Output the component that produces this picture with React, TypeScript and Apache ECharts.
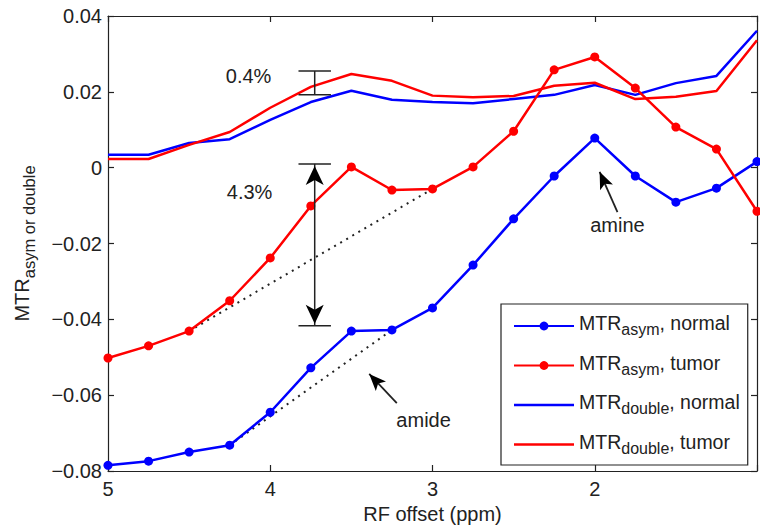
import React, { useEffect, useRef } from "react";
import * as echarts from "echarts";

// RF offsets (ppm)
const offsets = [5, 4.75, 4.5, 4.25, 4, 3.75, 3.5, 3.25, 3, 2.75, 2.5, 2.25, 2, 1.75, 1.5, 1.25, 1];

// Series values
const asymNormal = [-0.0785, -0.0774, -0.075, -0.0732, -0.0645, -0.0528, -0.0431, -0.0428, -0.037, -0.0257, -0.0135, -0.0022, 0.0078, -0.0022, -0.0091, -0.0054, 0.0016];
const asymTumor = [-0.0502, -0.047, -0.0431, -0.0351, -0.0238, -0.0101, 0.0002, -0.0059, -0.0056, 0.0002, 0.0096, 0.0258, 0.0292, 0.021, 0.0107, 0.0049, -0.0115];
const doubleNormal = [0.0034, 0.0034, 0.0065, 0.0075, 0.0126, 0.0173, 0.0203, 0.0179, 0.0173, 0.017, 0.0181, 0.0192, 0.0218, 0.0192, 0.0223, 0.0242, 0.0361];
const doubleTumor = [0.0023, 0.0023, 0.006, 0.0094, 0.0158, 0.0213, 0.0247, 0.0229, 0.019, 0.0186, 0.0189, 0.0216, 0.0224, 0.0181, 0.0187, 0.0202, 0.0336];

// Baselines (dotted)
const tumorBaseline = [[4.5, -0.0431], [3, -0.0056]];
const normalBaseline = [[4.25, -0.0732], [3.25, -0.0428]];

// Legend
const seriesNames = ["asymNormal", "asymTumor", "doubleNormal", "doubleTumor"];
const legendSub = ["asym", "asym", "double", "double"];
const legendTail = [", normal", ", tumor", ", normal", ", tumor"];

// Annotations (data coordinates)
const smallBar = { x: 3.726, top: 0.0255, bottom: 0.0192, half: 0.1 };
const bigBar = { x: 3.726, top: 0.001, bottom: -0.0417, half: 0.1 };
const label04 = { x: 4.274, y: 0.0242, text: "0.4%" };
const label43 = { x: 4.268, y: -0.0064, text: "4.3%" };
const amine = { tip: [1.97, -0.0011], tail: [1.86, -0.0117], label: [1.86, -0.0151], text: "amine" };
const amide = { tip: [3.39, -0.0544], tail: [3.22, -0.0621], label: [3.055, -0.0666], text: "amide" };

const BLUE = "#0000ff";
const RED = "#ff0000";
const INK = "#222";
const FONT = "'Liberation Sans', Arial, Helvetica, sans-serif";

const pairs = (ys: number[]) => offsets.map((x, i) => [x, ys[i]]);

const fmtY = (v: number) => {
  if (Math.abs(v) < 1e-9) return "0";
  const s = Math.abs(v).toFixed(2);
  return v < 0 ? "\u2212" + s : s;
};

export default function App() {
  const ref = useRef<HTMLDivElement>(null);
  useEffect(() => {
    if (!ref.current) return;
    const chart = echarts.init(ref.current, undefined, { renderer: "svg" });
    const axisLine = { show: true, onZero: false, lineStyle: { color: INK, width: 1.2 } };
    const axisTick = { show: true, inside: true, length: 6, lineStyle: { color: INK, width: 1.2 } };
    const option: any = {
      animation: false,
      backgroundColor: "#fff",
      textStyle: { fontFamily: FONT },
      grid: { left: 108, top: 16, right: -3, bottom: 58 },
      xAxis: [
        {
          type: "value", min: 1, max: 5, interval: 1, inverse: true, position: "bottom",
          axisLine, axisTick,
          axisLabel: { color: INK, fontSize: 20, margin: 8, fontFamily: FONT, formatter: (v: number) => (v === 1 ? "" : String(v)) },
          splitLine: { show: false },
          name: "RF offset (ppm)", nameLocation: "middle", nameGap: 30,
          nameTextStyle: { fontSize: 20, color: INK, fontFamily: FONT },
        },
        {
          type: "value", min: 1, max: 5, interval: 1, inverse: true, position: "top",
          axisLine, axisTick, axisLabel: { show: false }, splitLine: { show: false },
        },
      ],
      yAxis: [
        {
          type: "value", min: -0.08, max: 0.04, interval: 0.02, position: "left",
          axisLine, axisTick,
          axisLabel: { color: INK, fontSize: 20, margin: 6, fontFamily: FONT, formatter: fmtY },
          splitLine: { show: false },
          name: "{a|MTR}{b|asym or double}", nameLocation: "middle", nameGap: 70, nameRotate: 90,
          nameTextStyle: {
            color: INK, fontFamily: FONT, fontSize: 20,
            rich: {
              a: { fontSize: 20, color: INK, fontFamily: FONT, padding: [0, 0, 6, 0] },
              b: { fontSize: 16.5, color: INK, fontFamily: FONT, padding: [7, 0, 0, 0] },
            },
          },
        },
        {
          type: "value", min: -0.08, max: 0.04, interval: 0.02, position: "right",
          axisLine, axisTick, axisLabel: { show: false }, splitLine: { show: false },
        },
      ],
      legend: {
        orient: "vertical", left: 501, top: 304,
        itemWidth: 60, itemHeight: 11, itemGap: 15,
        padding: [9, 8, 9, 12],
        borderColor: INK, borderWidth: 1.2, backgroundColor: "#fff",
        selectedMode: false,
        data: [
          { name: seriesNames[0] },
          { name: seriesNames[1] },
          { name: seriesNames[2], icon: "path://M0,0H60V2.5H0Z" },
          { name: seriesNames[3], icon: "path://M0,0H60V2.5H0Z" },
        ],
        formatter: (name: string) => {
          const i = seriesNames.indexOf(name);
          return `{a|MTR}{b|${legendSub[i]}}{a|${legendTail[i]}}`;
        },
        textStyle: {
          color: INK, fontFamily: FONT, fontSize: 19.5,
          rich: {
            a: { fontSize: 19.5, color: INK, fontFamily: FONT, padding: [0, 0, 6, 0] },
            b: { fontSize: 16, color: INK, fontFamily: FONT, padding: [7, 0, 0, 0] },
          },
        },
      },
      series: [
        {
          name: "tumorBaseline", type: "line", data: tumorBaseline, symbol: "none", silent: true,
          lineStyle: { color: INK, width: 2, type: [2, 5] }, z: 1,
        },
        {
          name: "normalBaseline", type: "line", data: normalBaseline, symbol: "none", silent: true,
          lineStyle: { color: INK, width: 2, type: [2, 5] }, z: 1,
        },
        {
          name: seriesNames[2], type: "line", data: pairs(doubleNormal), symbol: "none",
          lineStyle: { color: BLUE, width: 2.5 }, itemStyle: { color: BLUE }, z: 2,
        },
        {
          name: seriesNames[3], type: "line", data: pairs(doubleTumor), symbol: "none",
          lineStyle: { color: RED, width: 2.5 }, itemStyle: { color: RED }, z: 2,
        },
        {
          name: seriesNames[0], type: "line", data: pairs(asymNormal), symbol: "circle", symbolSize: 9,
          lineStyle: { color: BLUE, width: 2.5 }, itemStyle: { color: BLUE }, z: 3,
        },
        {
          name: seriesNames[1], type: "line", data: pairs(asymTumor), symbol: "circle", symbolSize: 9,
          lineStyle: { color: RED, width: 2.5 }, itemStyle: { color: RED }, z: 3,
        },
      ],
    };
    chart.setOption(option);

    const px = (x: number, y: number) => chart.convertToPixel({ gridIndex: 0 }, [x, y]) as number[];
    const head = (tip: number[], tail: number[], len: number, hw: number, notch: number) => {
      const dx = tip[0] - tail[0];
      const dy = tip[1] - tail[1];
      const d = Math.hypot(dx, dy) || 1;
      const ux = dx / d, uy = dy / d;
      const nx = -uy, ny = ux;
      return [
        [tip[0], tip[1]],
        [tip[0] - ux * len + nx * hw, tip[1] - uy * len + ny * hw],
        [tip[0] - ux * (len - notch), tip[1] - uy * (len - notch)],
        [tip[0] - ux * len - nx * hw, tip[1] - uy * len - ny * hw],
      ];
    };
    const seg = (a: number[], b: number[], w = 1.5) => ({
      type: "line", shape: { x1: a[0], y1: a[1], x2: b[0], y2: b[1] },
      style: { stroke: INK, lineWidth: w }, z: 10,
    });
    const txt = (p: number[], text: string, align: string) => ({
      type: "text", x: p[0], y: p[1], z: 10,
      style: { text, fill: INK, font: `20px ${FONT}`, align, verticalAlign: "middle" },
    });

    const g: any[] = [];
    // 0.4% bar
    {
      const t = px(smallBar.x, smallBar.top), b = px(smallBar.x, smallBar.bottom);
      const tl = px(smallBar.x + smallBar.half, smallBar.top), tr = px(smallBar.x - smallBar.half, smallBar.top);
      const bl = px(smallBar.x + smallBar.half, smallBar.bottom), br = px(smallBar.x - smallBar.half, smallBar.bottom);
      g.push(seg(t, b), seg(tl, tr), seg(bl, br));
    }
    // 4.3% double arrow
    {
      const t = px(bigBar.x, bigBar.top), b = px(bigBar.x, bigBar.bottom);
      const tl = px(bigBar.x + bigBar.half, bigBar.top), tr = px(bigBar.x - bigBar.half, bigBar.top);
      const bl = px(bigBar.x + bigBar.half, bigBar.bottom), br = px(bigBar.x - bigBar.half, bigBar.bottom);
      g.push(seg(t, b), seg(tl, tr), seg(bl, br));
      g.push({ type: "polygon", shape: { points: head([t[0], t[1] + 2], b, 19, 9, 5) }, style: { fill: "#000" }, z: 10 });
      g.push({ type: "polygon", shape: { points: head([b[0], b[1] - 2], t, 19, 9, 5) }, style: { fill: "#000" }, z: 10 });
    }
    g.push(txt(px(label04.x, label04.y), label04.text, "left"));
    g.push(txt(px(label43.x, label43.y), label43.text, "left"));
    for (const a of [amine, amide]) {
      const tip = px(a.tip[0], a.tip[1]);
      const tail = px(a.tail[0], a.tail[1]);
      g.push(seg(tip, tail, 1.8));
      g.push({ type: "polygon", shape: { points: head(tip, tail, 17, 7, 4) }, style: { fill: "#000" }, z: 10 });
      g.push(txt(px(a.label[0], a.label[1]), a.text, "center"));
    }
    chart.setOption({ graphic: g });

    return () => chart.dispose();
  }, []);
  return <div ref={ref} style={{ position: "fixed", left: 0, top: 0, width: 760, height: 529 }} />;
}
